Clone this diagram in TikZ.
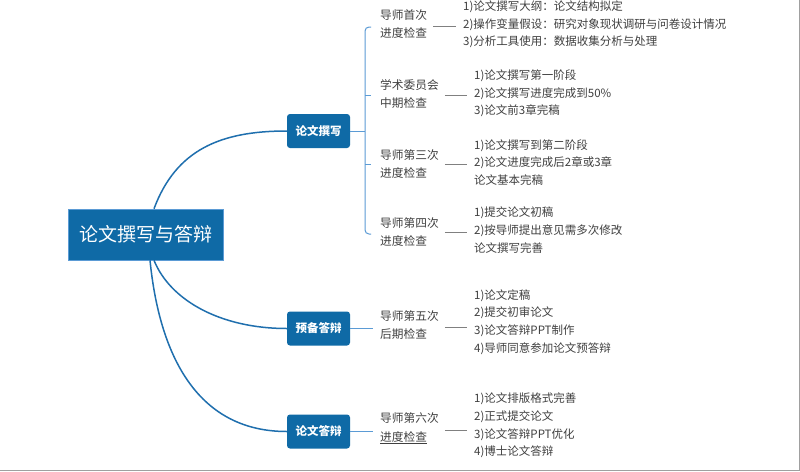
\documentclass[tikz,border=0pt]{standalone}
\usepackage{fontspec}
\setmainfont{Noto Sans CJK SC}
\definecolor{mainblue}{HTML}{0F6AA6}
\definecolor{edgeblue}{HTML}{1F6FAE}
\definecolor{lightblue}{HTML}{5B9BD5}
\definecolor{txtgray}{HTML}{404040}
\definecolor{linegray}{HTML}{808080}
\definecolor{framegray}{HTML}{A0A0A0}
\begin{document}
\begin{tikzpicture}[x=1pt,y=-1pt,
  subtxt/.style={text=txtgray, font=\fontsize{11.7}{18.5}\selectfont, align=left, inner sep=0pt, anchor=west},
  leaf/.style={text=txtgray, font=\fontsize{11.5}{17.6}\selectfont, align=left, inner sep=0pt, anchor=west},
  branch/.style={fill=mainblue, text=white, font=\fontsize{11.5}{14}\selectfont\bfseries, rounded corners=3pt, minimum width=63pt, minimum height=34pt, inner sep=0pt},
  root/.style={fill=mainblue, draw=lightblue, line width=0.6pt, text=white, font=\fontsize{19}{22}\selectfont, minimum width=155pt, minimum height=51pt, inner sep=0pt},
  curve/.style={draw=edgeblue, line width=1.5pt},
  blueline/.style={draw=lightblue, line width=1pt},
  grayline/.style={draw=linegray, line width=1pt, shorten <=6pt, shorten >=7pt}]
\useasboundingbox (0,0) rectangle (800,471);
\fill[white] (0,0) rectangle (800,471);
\draw[framegray, line width=1pt] (0,470) -- (799,470) -- (799,0);

% root and branches
\node[root] (root) at (145.5,234.5) {论文撰写与答辩};
\node[branch] (b1) at (318.5,131) {论文撰写};
\node[branch] (b2) at (318.5,328.5) {预备答辩};
\node[branch] (b3) at (318.5,431.5) {论文答辩};

\draw[curve] ([xshift=8.5pt]root.north) .. controls (176,150) and (220,131) .. (b1.west);
\draw[curve] ([xshift=8.5pt]root.south) .. controls (170,300) and (220,328.5) .. (b2.west);
\draw[curve] ([xshift=4.5pt]root.south) .. controls (160,360) and (200,431.5) .. (b3.west);

% sub nodes
\node[subtxt] (s1) at (380,24) {导师首次\\进度检查};
\node[subtxt] (s2) at (380,94) {学术委员会\\中期检查};
\node[subtxt] (s3) at (380,164) {导师第三次\\进度检查};
\node[subtxt] (s4) at (380,232) {导师第四次\\进度检查};
\node[subtxt] (s5) at (380,325) {导师第五次\\后期检查};
\node[subtxt] (s6) at (380,428.5) {导师第六次\\\underline{进度检查}};

% leaves
\node[leaf] (l1) at (463,24.5) {1)论文撰写大纲：论文结构拟定\\2)操作变量假设：研究对象现状调研与问卷设计情况\\3)分析工具使用：数据收集分析与处理};
\node[leaf] (l2) at (474,93.5) {1)论文撰写第一阶段\\2)论文撰写进度完成到50\%\\3)论文前3章完稿};
\node[leaf] (l3) at (474,162.5) {1)论文撰写到第二阶段\\2)论文进度完成后2章或3章\\论文基本完稿};
\node[leaf] (l4) at (474,230) {1)提交论文初稿\\2)按导师提出意见需多次修改\\论文撰写完善};
\node[leaf] (l5) at (474,322) {1)论文定稿\\2)提交初审论文\\3)论文答辩PPT制作\\4)导师同意参加论文预答辩};
\node[leaf] (l6) at (474,425.5) {1)论文排版格式完善\\2)正式提交论文\\3)论文答辩PPT优化\\4)博士论文答辩};

% bracket for first branch
\coordinate (bx) at (365,131);
\draw[blueline] (b1.east) -- (bx);
\draw[blueline, rounded corners=4pt] (s1.west -| 371,0) ++(0,3) -- ++(-6,0) |- ([yshift=-2pt]s4.west -| 371,0);
\draw[blueline] ([yshift=-1pt]s2.west -| 365,0) -- ([yshift=-1pt]s2.west -| 371,0);
\draw[blueline] (s3.west -| 365,0) -- (s3.west -| 371,0);

% branch to sub lines
\draw[blueline, shorten >=7pt] (b2.east) -- (b2.east -| s5.west);
\draw[blueline, shorten >=7pt] (b3.east) -- (b3.east -| s6.west);

% sub to leaf lines
\draw[grayline] ([yshift=-2pt]s1.east) -- ([yshift=-2pt]s1.east -| l1.west);
\draw[grayline] ([yshift=-1pt]s2.east) -- ([yshift=-1pt]s2.east -| l2.west);
\draw[grayline] (s3.east) -- (s3.east -| l3.west);
\draw[grayline] (s4.east) -- (s4.east -| l4.west);
\draw[grayline] ([yshift=-2pt]s5.east) -- ([yshift=-2pt]s5.east -| l5.west);
\draw[grayline] ([yshift=-1.5pt]s6.east) -- ([yshift=-1.5pt]s6.east -| l6.west);
\end{tikzpicture}
\end{document}
